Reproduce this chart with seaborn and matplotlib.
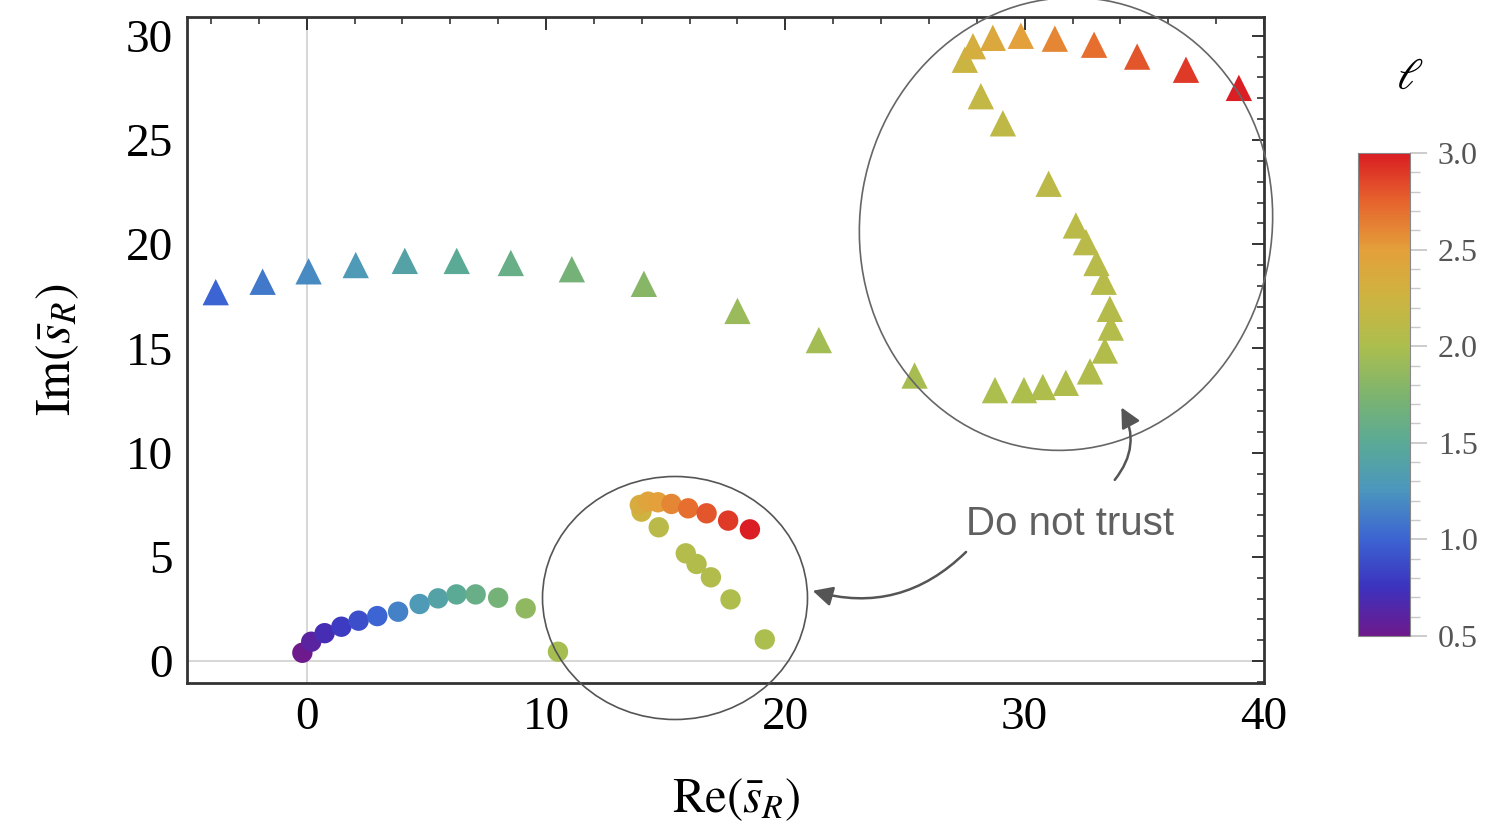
import numpy as np
import pandas as pd
import matplotlib
matplotlib.use('Agg')
import matplotlib.pyplot as plt
import seaborn as sns
from matplotlib.colors import LinearSegmentedColormap, Normalize
from matplotlib.patches import Ellipse, FancyArrowPatch
from matplotlib.ticker import MultipleLocator

# triangles (upper family)
tri_re = [-3.80, -1.84, 0.08, 2.05, 4.10, 6.27, 8.53, 11.08, 14.09, 18.0, 21.4, 25.4,
          28.76, 29.97, 30.76, 31.72, 32.73, 33.35, 33.6, 33.56, 33.3, 33.0, 32.56, 32.14,
          31.0, 29.09, 28.17, 27.5, 27.84, 28.67, 29.84, 31.26, 32.9, 34.7, 36.74, 38.95]
tri_im = [17.7, 18.2, 18.7, 19.0, 19.2, 19.2, 19.1, 18.8, 18.1, 16.8, 15.4, 13.7,
          13.0, 13.0, 13.15, 13.35, 13.9, 14.9, 16.0, 16.9, 18.2, 19.1, 20.1, 20.9,
          22.9, 25.8, 27.1, 28.85, 29.5, 29.9, 30.0, 29.86, 29.57, 29.0, 28.37, 27.5]
tri_ell = [1.0, 1.1, 1.2, 1.3, 1.4, 1.5, 1.6, 1.7, 1.8, 1.9, 1.95, 1.98,
           2.0, 2.01, 2.02, 2.03, 2.04, 2.05, 2.06, 2.07, 2.08, 2.09, 2.10, 2.11,
           2.12, 2.14, 2.17, 2.22, 2.32, 2.40, 2.50, 2.60, 2.70, 2.80, 2.90, 3.0]

# circles (lower family)
circ_re = [-0.18, 0.19, 0.75, 1.45, 2.17, 2.95, 3.82, 4.72, 5.49, 6.26, 7.06, 8.0, 9.15, 10.5,
           19.14, 17.71, 16.89, 16.29, 15.84, 14.71, 13.99, 13.92, 14.27, 14.68, 15.24, 15.94,
           16.71, 17.61, 18.52]
circ_im = [0.40, 0.93, 1.34, 1.65, 1.94, 2.16, 2.37, 2.74, 3.01, 3.20, 3.20, 3.04, 2.53, 0.45,
           1.04, 2.96, 4.02, 4.66, 5.17, 6.42, 7.17, 7.49, 7.65, 7.62, 7.54, 7.33,
           7.09, 6.74, 6.32]
circ_ell = [0.5, 0.6, 0.7, 0.8, 0.9, 1.0, 1.15, 1.3, 1.4, 1.5, 1.6, 1.7, 1.85, 1.97,
            2.0, 2.02, 2.04, 2.05, 2.06, 2.1, 2.25, 2.35, 2.45, 2.5, 2.6, 2.7,
            2.8, 2.9, 3.0]

cb_ticks = [0.5, 1.0, 1.5, 2.0, 2.5, 3.0]

rainbow = LinearSegmentedColormap.from_list('rb', [
    (0.00, (110/255, 25/255, 140/255)),
    (0.10, (60/255, 50/255, 190/255)),
    (0.20, (60/255, 100/255, 210/255)),
    (0.30, (75/255, 150/255, 190/255)),
    (0.40, (90/255, 170/255, 150/255)),
    (0.50, (125/255, 180/255, 110/255)),
    (0.60, (172/255, 190/255, 78/255)),
    (0.70, (205/255, 180/255, 65/255)),
    (0.80, (228/255, 160/255, 58/255)),
    (0.90, (230/255, 100/255, 45/255)),
    (1.00, (218/255, 30/255, 35/255)),
])
norm = Normalize(0.5, 3.0)

tri = pd.DataFrame({'re': tri_re, 'im': tri_im, 'ell': tri_ell})
circ = pd.DataFrame({'re': circ_re, 'im': circ_im, 'ell': circ_ell})

sns.set_style('white')
plt.rcParams['mathtext.fontset'] = 'stix'
plt.rcParams['font.family'] = ['Liberation Serif', 'DejaVu Serif']
plt.rcParams['text.color'] = 'black'
plt.rcParams['axes.labelcolor'] = 'black'

W, H = 1485, 822
fig = plt.figure(figsize=(W / 100, H / 100), dpi=100)
ax = fig.add_axes([187 / W, 1 - 683 / H, (1264 - 187) / W, (683 - 17) / H])

ax.axvline(0, color='#cfcfcf', lw=1.2, zorder=0)
ax.axhline(0, color='#cfcfcf', lw=1.2, zorder=0)

sns.scatterplot(data=tri, x='re', y='im', hue='ell', palette=rainbow, hue_norm=norm,
                marker='^', s=360, linewidth=0, legend=False, ax=ax, zorder=3)
sns.scatterplot(data=circ, x='re', y='im', hue='ell', palette=rainbow, hue_norm=norm,
                marker='o', s=215, linewidth=0, legend=False, ax=ax, zorder=3)

ax.set_xlim(-5, 40)
ax.set_ylim(-1.05, 30.9)
ax.xaxis.set_major_locator(MultipleLocator(10))
ax.xaxis.set_minor_locator(MultipleLocator(2))
ax.yaxis.set_major_locator(MultipleLocator(5))
ax.yaxis.set_minor_locator(MultipleLocator(1))
ax.tick_params(which='both', direction='in', top=True, right=True, color='#222222',
               labelcolor='black')
ax.tick_params(which='major', length=9, width=1.3, labelsize=34, pad=10)
ax.tick_params(which='minor', length=5, width=1.1)
for sp in ax.spines.values():
    sp.set_color('#333333')
    sp.set_linewidth(2)

ax.set_xlabel(r'$\mathrm{Re}(\bar{s}_R)$', fontsize=35)
ax.set_ylabel(r'$\mathrm{Im}(\bar{s}_R)$', fontsize=36)
ax.xaxis.set_label_coords(0.51, -0.14)
ax.yaxis.set_label_coords(-0.098, 0.5)

# colorbar
cax = fig.add_axes([1358 / W, 1 - 636 / H, 52 / W, 483 / H])
sm = plt.cm.ScalarMappable(norm=norm, cmap=rainbow)
cb = fig.colorbar(sm, cax=cax, ticks=cb_ticks)
cb.ax.yaxis.set_minor_locator(MultipleLocator(0.1))
cb.ax.tick_params(which='both', color='#c8c8c8', labelcolor='#555555')
cb.ax.tick_params(which='major', length=12, width=1.3, labelsize=23, pad=8)
cb.ax.tick_params(which='minor', length=7, width=1.0)
cb.ax.set_yticklabels([f'{t:.1f}' for t in cb_ticks])
cb.outline.set_edgecolor('#888888')
cb.outline.set_linewidth(0.8)
fig.text(1410 / W, 1 - 78 / H, r'$\ell$', fontsize=32, ha='center', va='center')

# hand-drawn style ellipses and annotation, in pixel-like inch coordinates
tr = fig.dpi_scale_trans
def pin(px, py):
    return (px / 100, (H - py) / 100)

ax.add_artist(Ellipse(pin(1066, 224), 4.12, 4.54, angle=-10, transform=tr, fill=False,
                      edgecolor='#666666', lw=1.2, clip_on=False, zorder=5))
ax.add_artist(Ellipse(pin(675, 598), 2.65, 2.43, angle=0, transform=tr, fill=False,
                      edgecolor='#555555', lw=1.2, clip_on=False, zorder=5))

fig.text(1070 / W, 1 - 524 / H, 'Do not trust', fontsize=29, color='#606060',
         family=['Liberation Sans', 'DejaVu Sans'], ha='center', va='center')

arr_kw = dict(arrowstyle='-|>', mutation_scale=30, color='#555555', lw=1.8, transform=tr,
              clip_on=False, zorder=6)
fig.patches.append(FancyArrowPatch(pin(1113, 482), pin(1120, 405),
                                   connectionstyle='arc3,rad=0.35', **arr_kw))
fig.patches.append(FancyArrowPatch(pin(968, 550), pin(810, 590),
                                   connectionstyle='arc3,rad=-0.3', **arr_kw))

fig.savefig('out.png', dpi=100, facecolor='white')
